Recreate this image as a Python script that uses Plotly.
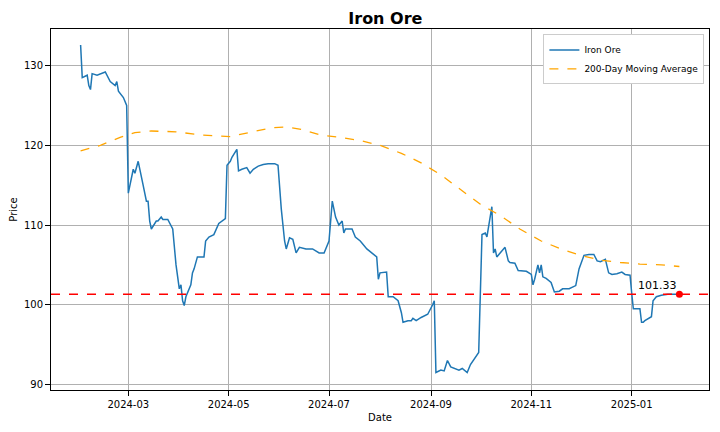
import plotly.graph_objects as go
import pandas as pd

start = pd.Timestamp("2024-02-01")
price_days = [0,1,4,5,6,7,10,15,18,21,22,23,26,28,29,30,32,33,35,38,40,41,42,43,46,47,49,50,53,56,58,60,61,62,63,64,67,68,69,71,75,76,78,81,84,88,89,91,92,95,96,98,101,103,105,108,111,114,118,120,122,124,125,127,129,131,133,137,141,145,148,151,153,155,157,159,160,161,165,167,170,174,177,180,181,182,186,187,190,193,195,196,199,201,202,204,207,211,214,215,216,219,221,223,225,228,230,232,233,235,237,240,242,244,246,247,249,250,251,252,253,255,258,260,261,264,266,271,274,275,276,278,279,280,281,283,286,288,291,293,297,301,303,306,309,312,314,316,319,321,323,326,329,331,334,335,336,340,341,342,343,347,348,350,353,357,360,364]
price_vals = [132.6,128.5,128.8,127.5,127,129,128.8,129.2,128,127.5,128,126.8,126,125,114,115,117,116.5,118,115,113,113,110.5,109.5,110.5,110.5,111,110.7,110.7,109.5,105,102,102.5,100.5,99.9,101,102.5,104,104.5,106,106,108,108.5,108.8,110.2,110.8,117.5,118,118.5,119.5,116.8,117,117.2,116.5,117,117.4,117.6,117.7,117.7,117.5,112,108,107,108.4,108.2,106.5,107.2,107,107,106.5,106.5,108,113,111,110,110.5,109,109.5,109.5,108.5,108,107,106.5,106,103.2,104,104.1,101,101,100.5,99,97.8,98,98,98.3,98,98.4,98.8,100,100.5,91.5,91.8,91.7,93,92.2,92,91.8,92,91.8,91.5,92.5,93.5,94,108.8,109,108.5,111,112.3,106.5,107,106,106.5,107.2,105.5,105.3,105.2,104.3,104.2,103.8,102.5,103.2,105,104,105,103.5,103.3,102.8,101.6,101.7,102,102,102.4,104.5,106.2,106.3,106.3,105.5,105.4,105.7,104,103.8,103.9,104.1,103.8,103.7,101.5,99.5,99.5,97.8,97.8,98,98.5,100.5,101,101.2,101.3,101.3,101.33]
ma_days = [0,12,18,24,33,43,58,73,91,103,116,125,134,146,158,170,182,195,207,219,231,243,255,267,280,292,304,316,328,340,353,364]
ma_vals = [119.3,120,120.5,121,121.6,121.8,121.7,121.3,121.1,121.6,122.2,122.3,122.0,121.3,121.0,120.6,120.0,119.0,117.8,116.3,114.5,112.6,111.2,109.5,108.0,107.0,106.2,105.6,105.3,105.1,105.0,104.8]
last_price = 101.33

px = [start + pd.Timedelta(days=d) for d in price_days]
mx = [start + pd.Timedelta(days=d) for d in ma_days]

fig = go.Figure()
fig.add_trace(go.Scatter(x=px, y=price_vals, mode="lines", name="Iron Ore", line=dict(color="#1f77b4", width=1.5)))
fig.add_trace(go.Scatter(x=mx, y=ma_vals, mode="lines", name="200-Day Moving Average", line=dict(color="orange", width=1.3, dash="dash")))
fig.add_hline(y=last_price, line=dict(color="red", dash="dash", width=1.5))
fig.add_trace(go.Scatter(x=[px[-1]], y=[last_price], mode="markers", marker=dict(color="red", size=7), showlegend=False))
fig.add_annotation(x=px[-1], y=last_price, text=f"{last_price:.2f}", showarrow=False, xanchor="right", yanchor="bottom", yshift=0, font=dict(size=11, color="black"))

ax = dict(showline=True, linecolor="black", mirror=True, showgrid=True, gridcolor="#b0b0b0", ticks="outside", tickcolor="black", zeroline=False, tickfont=dict(size=10), automargin=False)
fig.update_layout(
    width=712, height=424, paper_bgcolor="white", plot_bgcolor="white",
    margin=dict(l=43, r=11, t=21, b=42),
    font=dict(family="DejaVu Sans", color="black"),
    title=dict(text="<b>Iron Ore</b>", x=0.53, xanchor="center", y=0.975, yanchor="middle", font=dict(size=16)),
    legend=dict(x=0.993, y=0.985, xanchor="right", yanchor="top", bordercolor="#cccccc", borderwidth=1, bgcolor="white", font=dict(size=9), tracegroupgap=0),
)
fig.update_xaxes(**ax, title=dict(text="Date", font=dict(size=10), standoff=4), tickformat="%Y-%m", dtick="M2", tick0="2024-03-01",
                 range=[start - pd.Timedelta(days=18), start + pd.Timedelta(days=382)])
fig.update_yaxes(**ax, title=dict(text="Price", font=dict(size=10), standoff=4), range=[89.3, 134.6], dtick=10)
fig.write_html("out.html")
